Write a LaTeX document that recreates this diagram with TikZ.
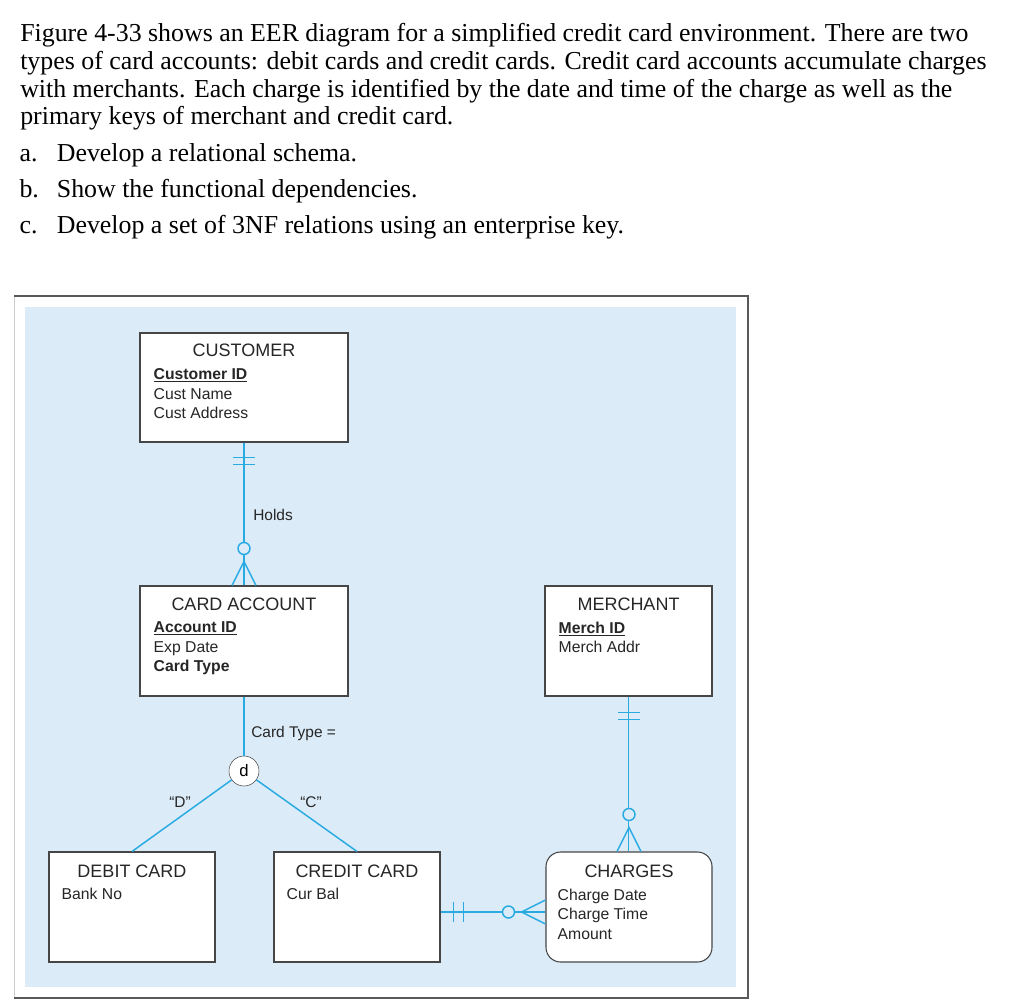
\documentclass[tikz,border=0pt]{standalone}
\usepackage{fontspec}
\setmainfont{Liberation Serif}
\setsansfont{Liberation Sans}
\usetikzlibrary{positioning,calc}

\definecolor{bgblue}{RGB}{219,235,248}
\definecolor{linkblue}{RGB}{41,171,226}
\definecolor{boxgray}{RGB}{70,70,70}

\begin{document}
\begin{tikzpicture}[x=0.75pt,y=-0.75pt,
    entity/.style={draw=boxgray, line width=0.8pt, fill=white, rectangle, inner sep=0pt},
    title/.style={font=\sffamily\fontsize{13.5}{16}\selectfont, text=black!85, inner sep=0pt},
    attrs/.style={font=\sffamily\fontsize{11.8}{14.6}\selectfont, align=left, anchor=north west, inner sep=0pt, text=black!85},
    conn/.style={draw=linkblue, line width=1.1pt},
    linklabel/.style={font=\sffamily\fontsize{11.6}{14}\selectfont, inner sep=0pt, text=black!85},
    para/.style={font=\fontsize{19.4}{20.85}\selectfont, align=left, inner sep=0pt}
]
        \useasboundingbox (0,0) rectangle (1024,1002);

        % Question text (anchored at the baseline of the last line)
        \node[para, anchor=base west] (intro) at (20,125) {
            Figure 4-33 shows an EER diagram for a simplified credit card environment. There are two\\
            types of card accounts: debit cards and credit cards. Credit card accounts accumulate charges\\
            with merchants. Each charge is identified by the date and time of the charge as well as the\\
            primary keys of merchant and credit card.
        };
        \node[para, font=\fontsize{19.4}{26.8}\selectfont, anchor=base west] (tasks) at (19.3,233) {
            \makebox[28pt][l]{a.}Develop a relational schema.\\
            \makebox[28pt][l]{b.}Show the functional dependencies.\\
            \makebox[28pt][l]{c.}Develop a set of 3NF relations using an enterprise key.
        };

        % Figure frame and background
        \fill[white] (14,296) rectangle (748,998);
        \draw[gray!40] (14,296) -- (14,998);
        \draw[black!65, line width=0.9pt] (14,296) -- (748,296) -- (748,998) -- (14,998);
        \fill[bgblue] (25,307) rectangle (736,987);

        % Entity boxes
        \node[entity, minimum width=156pt, minimum height=81.75pt] (cust) at (244,387.5) {};
        \node[entity, minimum width=156pt, minimum height=82.5pt] (acct) at (244,641) {};
        \node[entity, minimum width=125.25pt, minimum height=82.5pt] (merch) at (628.5,641) {};
        \node[entity, minimum width=124.5pt, minimum height=82.5pt] (debit) at (132,907) {};
        \node[entity, minimum width=124.5pt, minimum height=82.5pt] (credit) at (357,907) {};
        \node[entity, rounded corners=11pt, minimum width=124.5pt, minimum height=82.5pt] (charges) at (629,907) {};

        % Entity names
        \node[title] (custname) at ($(cust.north)+(0,18)$) {CUSTOMER};
        \node[title] (acctname) at ($(acct.north)+(0,19)$) {CARD ACCOUNT};
        \node[title] (merchname) at ($(merch.north)+(0,19)$) {MERCHANT};
        \node[title] (debitname) at ($(debit.north)+(0,20)$) {DEBIT CARD};
        \node[title] (creditname) at ($(credit.north)+(0,20)$) {CREDIT CARD};
        \node[title] (chargesname) at ($(charges.north)+(0,20)$) {CHARGES};

        % Attributes
        \node[attrs] (custattr) at ($(cust.north west)+(14,36)$) {
            \underline{\textbf{Customer ID}}\\
            Cust Name\\
            Cust Address
        };
        \node[attrs] (acctattr) at ($(acct.north west)+(14,36)$) {
            \underline{\textbf{Account ID}}\\
            Exp Date\\
            \textbf{Card Type}
        };
        \node[attrs] (merchattr) at ($(merch.north west)+(14,36)$) {
            \underline{\textbf{Merch ID}}\\
            Merch Addr
        };
        \node[attrs] (debitattr) at ($(debit.north west)+(13,36)$) {Bank No};
        \node[attrs] (creditattr) at ($(credit.north west)+(13,36)$) {Cur Bal};
        \node[attrs] (chargesattr) at ($(charges.north west)+(12,37)$) {
            Charge Date\\
            Charge Time\\
            Amount
        };

        % Holds: CUSTOMER to CARD ACCOUNT
        \draw[conn] (cust) -- (acct);
        \draw[conn] ($(cust.south)+(-11,15)$) -- ++(22,0);
        \draw[conn] ($(cust.south)+(-11,22)$) -- ++(22,0);
        \draw[conn, fill=bgblue] ($(acct.north)+(0,-37)$) circle[radius=4.5pt];
        \draw[conn] ($(acct.north)+(-12,0)$) -- ($(acct.north)+(0,-24)$) -- ($(acct.north)+(12,0)$);
        \node[linklabel, anchor=west] (holds) at (253,515) {Holds};

        % Subtypes of CARD ACCOUNT
        \node[draw=boxgray, fill=white, circle, minimum size=22.5pt, inner sep=0pt,
              font=\sffamily\fontsize{12.5}{14}\selectfont] (disj) at (244,771) {d};
        \draw[conn] (acct) -- (disj);
        \draw[conn] (disj) -- (debit.north);
        \draw[conn] (disj) -- (credit.north);
        \node[linklabel, anchor=west] (cardtype) at (251,733) {Card Type =};
        \node[linklabel] (dlabel) at (180,802) {“D”};
        \node[linklabel] (clabel) at (311,802) {“C”};

        % MERCHANT to CHARGES
        \draw[conn] (merch.south) -- (merch.south |- charges.north);
        \draw[conn] ($(merch.south)+(-11,16)$) -- ++(22,0);
        \draw[conn] ($(merch.south)+(-11,23)$) -- ++(22,0);
        \draw[conn, fill=bgblue] ($(charges.north)+(0,-37)$) circle[radius=4.5pt];
        \draw[conn] ($(charges.north)+(-12,0)$) -- ($(charges.north)+(0,-24)$) -- ($(charges.north)+(12,0)$);

        % CREDIT CARD to CHARGES
        \draw[conn] ($(credit.east)+(0,5)$) -- ($(charges.west)+(0,5)$);
        \draw[conn] ($(credit.east)+(13,-5)$) -- ++(0,20);
        \draw[conn] ($(credit.east)+(23,-5)$) -- ++(0,20);
        \draw[conn, fill=bgblue] ($(charges.west)+(-37,5)$) circle[radius=4.5pt];
        \draw[conn] ($(charges.west)+(0,-7)$) -- ($(charges.west)+(-24,5)$) -- ($(charges.west)+(0,17)$);
    \end{tikzpicture}
\end{document}
